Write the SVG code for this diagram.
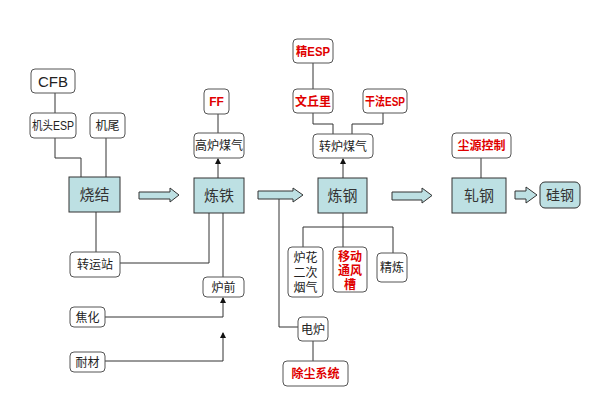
<svg xmlns="http://www.w3.org/2000/svg" width="600" height="420" viewBox="0 0 600 420">
<style>
text{font-family:"Liberation Sans","Noto Sans CJK SC",sans-serif;text-anchor:middle;fill:#222;}
.rb{fill:#fff;stroke:#555;stroke-width:1;}
.pb{fill:#bde0e3;stroke:#333;stroke-width:1;}
.t{font-size:12px;}
.p{font-size:15px;fill:#333;}
.r{font-size:12px;fill:#e00000;font-weight:bold;}
.c{fill:none;stroke:#333;stroke-width:1;}
.ar{fill:#bde0e3;stroke:#333;stroke-width:1;}
</style>
<defs>
<marker id="ah" viewBox="0 0 6 6" refX="5" refY="3" markerWidth="6" markerHeight="6" orient="auto" markerUnits="userSpaceOnUse">
<path d="M0,0 L6,3 L0,6 Z" fill="#111"/>
</marker>
</defs>
<rect width="600" height="420" fill="#fff"/>
<g id="connectors">
<path class="c" d="M55,93 V113"/>
<path class="c" d="M55,138 V158 H81 V177"/>
<path class="c" d="M106,138 V177"/>
<path class="c" d="M96,212 V252"/>
<path class="c" d="M120,263 H209 V213"/>
<path class="c" d="M218,114 V133"/>
<path class="c" d="M218,178 V159" marker-end="url(#ah)"/>
<path class="c" d="M223,213 V277"/>
<path class="c" d="M105,317 H223 V298" marker-end="url(#ah)"/>
<path class="c" d="M105,361 H223 V333" marker-end="url(#ah)"/>
<path class="c" d="M313,63 V89"/>
<path class="c" d="M313,113 V124 H333 V134"/>
<path class="c" d="M383,113 V124 H352 V134"/>
<path class="c" d="M343,178 V159" marker-end="url(#ah)"/>
<path class="c" d="M343,213 V227 M303,227 H393 M303,227 V247 M343,227 V247 M393,227 V253"/>
<path class="c" d="M279,199 V327 H298"/>
<path class="c" d="M313,341 V361"/>
<path class="c" d="M481,158 V178"/>
<path class="ar" d="M139,192 H170 V188 L179,195 L170,202 V199 H139 Z"/>
<path class="ar" d="M258,191 H293 V188 L303,195 L293,202 V199 H258 Z"/>
<path class="ar" d="M392,192 H422 V188 L432,195.5 L422,203 V200 H392 Z"/>
<path class="ar" d="M515,191 H526 V187 L537,195 L526,203 V199 H515 Z"/>
</g>
<g id="n-cfb"><rect class="rb" x="31" y="69" width="44" height="24" rx="4"/><text x="53" y="87" style="font-size:15px">CFB</text></g>
<g id="n-jitou"><rect class="rb" x="30" y="113" width="46" height="25" rx="4"/><text class="t" x="53" y="130" textLength="42" lengthAdjust="spacingAndGlyphs">机头ESP</text></g>
<g id="n-jiwei"><rect class="rb" x="90" y="113" width="35" height="25" rx="4"/><text class="t" x="107.5" y="130">机尾</text></g>
<g id="n-shaojie"><rect class="pb" x="69" y="177" width="51" height="35"/><text class="p" x="94.5" y="200">烧结</text></g>
<g id="n-zhuanyun"><rect class="rb" x="70" y="252" width="50" height="25" rx="4"/><text class="t" x="95" y="269">转运站</text></g>
<g id="n-jiaohua"><rect class="rb" x="70" y="307" width="35" height="20" rx="4"/><text class="t" x="87.5" y="321.5">焦化</text></g>
<g id="n-naicai"><rect class="rb" x="70" y="352" width="35" height="20" rx="4"/><text class="t" x="87.5" y="366.5">耐材</text></g>
<g id="n-ff"><rect class="rb" x="204" y="89" width="25" height="25" rx="4"/><text class="r" x="216.5" y="106">FF</text></g>
<g id="n-gaolu"><rect class="rb" x="194" y="133" width="50" height="25" rx="4"/><text class="t" x="219" y="150">高炉煤气</text></g>
<g id="n-liantie"><rect class="pb" x="194" y="178" width="50" height="35"/><text class="p" x="219" y="201">炼铁</text></g>
<g id="n-luqian"><rect class="rb" x="203" y="277" width="41" height="20" rx="4"/><text class="t" x="223.5" y="291.5">炉前</text></g>
<g id="n-jingesp"><rect class="rb" x="293" y="39" width="40" height="24" rx="4"/><text class="r" x="313" y="56" textLength="34" lengthAdjust="spacingAndGlyphs">精ESP</text></g>
<g id="n-wenqiuli"><rect class="rb" x="293" y="89" width="40" height="24" rx="4"/><text class="r" x="313" y="106">文丘里</text></g>
<g id="n-ganfa"><rect class="rb" x="363" y="89" width="44" height="24" rx="4"/><text class="r" x="385" y="106" textLength="40" lengthAdjust="spacingAndGlyphs">干法ESP</text></g>
<g id="n-zhuanlu"><rect class="rb" x="313" y="134" width="60" height="24" rx="4"/><text class="t" x="343" y="151">转炉煤气</text></g>
<g id="n-liangang"><rect class="pb" x="318" y="178" width="49" height="35"/><text class="p" x="342.5" y="201">炼钢</text></g>
<g id="n-luhua"><rect class="rb" x="288" y="247" width="35" height="50" rx="4"/><text class="t" x="305.5" y="262">炉花</text><text class="t" x="305.5" y="277">二次</text><text class="t" x="305.5" y="292">烟气</text></g>
<g id="n-yidong"><rect class="rb" x="333" y="247" width="34" height="45" rx="4"/><text class="r" x="350" y="261">移动</text><text class="r" x="350" y="275">通风</text><text class="r" x="350" y="289">槽</text></g>
<g id="n-jinglian"><rect class="rb" x="377" y="253" width="30" height="29" rx="4"/><text class="t" x="392" y="272">精炼</text></g>
<g id="n-dianlu"><rect class="rb" x="298" y="317" width="30" height="24" rx="4"/><text class="t" x="313" y="334">电炉</text></g>
<g id="n-chuchen"><rect class="rb" x="283" y="361" width="65" height="25" rx="4"/><text class="r" x="315.5" y="378">除尘系统</text></g>
<g id="n-chenyuan"><rect class="rb" x="452" y="133" width="59" height="25" rx="4"/><text class="r" x="481.5" y="150">尘源控制</text></g>
<g id="n-zhagang"><rect class="pb" x="452" y="178" width="54" height="35"/><text class="p" x="479" y="201">轧钢</text></g>
<g id="n-guigang"><rect x="540" y="182" width="40" height="26" rx="5" fill="#bde0e3" stroke="#333"/><text x="560" y="200" style="font-size:14px;fill:#333">硅钢</text></g>
</svg>
